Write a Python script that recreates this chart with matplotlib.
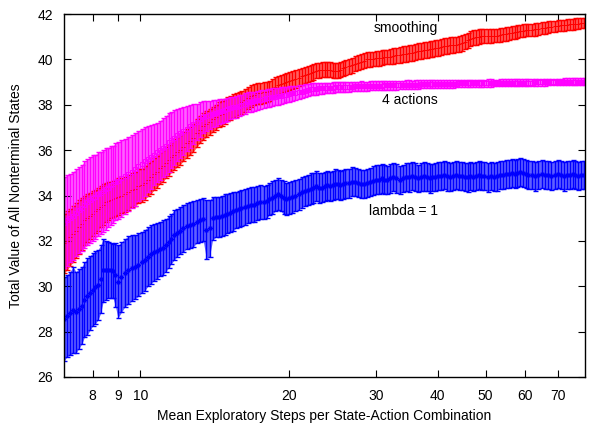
import matplotlib
matplotlib.use("Agg")
import matplotlib.pyplot as plt
from matplotlib.ticker import NullLocator, FixedLocator, FixedFormatter

plt.rcParams['font.family'] = ['Liberation Sans', 'DejaVu Sans']

# shared x samples (mean exploratory steps)
steps = [
    7.0, 7.1, 7.2, 7.3, 7.4, 7.5, 7.6, 7.7, 7.8, 7.9, 8.0, 8.1, 8.2, 8.3, 8.4, 8.5, 8.6, 8.7, 8.8, 8.9, 9.0,
    9.15, 9.3, 9.45, 9.6, 9.75, 9.9, 10.05, 10.2, 10.35, 10.5, 10.65, 10.8, 10.95, 11.1, 11.25, 11.4, 11.55, 11.7, 11.85, 12.0,
    12.2, 12.4, 12.6, 12.8, 13.0, 13.2, 13.4, 13.6, 13.8, 14.0, 14.2, 14.4, 14.6, 14.8, 15.0, 15.2, 15.4, 15.6, 15.8, 16.0,
    16.25, 16.5, 16.75, 17.0, 17.25, 17.5, 17.75, 18.0, 18.25, 18.5, 18.75, 19.0, 19.25, 19.5, 19.75, 20.0,
    20.3, 20.6, 20.9, 21.2, 21.5, 21.8, 22.1, 22.4, 22.7, 23.0, 23.3, 23.6, 23.9, 24.2, 24.5, 24.8, 25.1, 25.4, 25.7, 26.0,
    26.4, 26.8, 27.2, 27.6, 28.0, 28.4, 28.8, 29.2, 29.6, 30.0, 30.4, 30.8, 31.2, 31.6, 32.0,
    32.5, 33.0, 33.5, 34.0, 34.5, 35.0, 35.5, 36.0, 36.5, 37.0, 37.5, 38.0, 38.5, 39.0, 39.5, 40.0,
    40.6, 41.2, 41.8, 42.4, 43.0, 43.6, 44.2, 44.8, 45.4, 46.0, 46.6, 47.2, 47.8, 48.4, 49.0,
    49.75, 50.5, 51.25, 52.0, 52.75, 53.5, 54.25, 55.0, 55.75, 56.5, 57.25, 58.0, 58.75, 59.5, 60.25, 61.0,
    62, 63, 64, 65, 66, 67, 68, 69, 70, 71, 72, 73, 74, 75, 76, 77, 78, 79,
]

smoothing_mean = [
    31.9, 32.0, 32.15, 32.3, 32.45, 32.6, 32.75, 32.9, 33.0, 33.1, 33.2, 33.3, 33.4, 33.5, 33.6, 33.7, 33.75, 33.8, 33.85, 33.9, 33.95,
    34.0, 34.05, 34.15, 34.25, 34.3, 34.4, 34.45, 34.55, 34.7, 34.8, 34.95, 35.05, 35.2, 35.3, 35.45, 35.55, 35.7, 35.8, 35.9, 36.0,
    36.15, 36.3, 36.4, 36.55, 36.75, 36.9, 37.05, 37.15, 37.25, 37.35, 37.45, 37.55, 37.6, 37.7, 37.8, 37.85, 37.95, 38.0, 38.05, 38.1,
    38.2, 38.3, 38.4, 38.45, 38.5, 38.5, 38.55, 38.55, 38.6, 38.7, 38.8, 38.85, 38.9, 38.95, 39.0, 39.05,
    39.1, 39.15, 39.2, 39.25, 39.3, 39.35, 39.4, 39.45, 39.5, 39.52, 39.55, 39.55, 39.55, 39.55, 39.5, 39.5, 39.5, 39.55, 39.6, 39.65,
    39.7, 39.75, 39.8, 39.85, 39.9, 39.95, 40.0, 40.0, 40.02, 40.05, 40.05, 40.08, 40.1, 40.1, 40.12,
    40.15, 40.18, 40.2, 40.22, 40.25, 40.28, 40.3, 40.33, 40.35, 40.38, 40.4, 40.42, 40.45, 40.47, 40.5, 40.52,
    40.55, 40.58, 40.6, 40.62, 40.63, 40.65, 40.68, 40.72, 40.78, 40.85, 40.9, 40.95, 40.98, 41.0, 41.02,
    41.03, 41.05, 41.05, 41.05, 41.05, 41.07, 41.1, 41.12, 41.15, 41.18, 41.2, 41.22, 41.25, 41.27, 41.28, 41.3,
    41.3, 41.32, 41.35, 41.37, 41.4, 41.42, 41.44, 41.46, 41.48, 41.5, 41.5, 41.52, 41.54, 41.55, 41.57, 41.58, 41.6, 41.6,
]
smoothing_err = [
    1.3, 1.3, 1.25, 1.25, 1.2, 1.2, 1.15, 1.1, 1.05, 1.0, 1.0, 0.95, 0.95, 0.9, 0.9, 0.85, 0.85, 0.8, 0.8, 0.8, 0.8,
    0.78, 0.78, 0.77, 0.76, 0.75, 0.75, 0.74, 0.74, 0.73, 0.72, 0.72, 0.71, 0.7, 0.7, 0.69, 0.68, 0.68, 0.67, 0.66, 0.66,
    0.65, 0.64, 0.63, 0.62, 0.61, 0.6, 0.6, 0.59, 0.58, 0.57, 0.56, 0.55, 0.55, 0.54, 0.53, 0.53, 0.52, 0.52, 0.51, 0.5,
    0.5, 0.49, 0.48, 0.48, 0.47, 0.46, 0.46, 0.45, 0.45, 0.44, 0.43, 0.42, 0.42, 0.41, 0.4, 0.4,
    0.4, 0.39, 0.38, 0.37, 0.36, 0.36, 0.35, 0.35, 0.34, 0.34, 0.34, 0.34, 0.34, 0.34, 0.34, 0.34, 0.34, 0.34, 0.33, 0.33,
    0.33, 0.33, 0.33, 0.33, 0.33, 0.33, 0.32, 0.32, 0.32, 0.32, 0.32, 0.32, 0.32, 0.32, 0.32,
    0.34, 0.34, 0.35, 0.35, 0.35, 0.35, 0.35, 0.35, 0.35, 0.35, 0.35, 0.35, 0.35, 0.35, 0.35, 0.35,
    0.35, 0.35, 0.35, 0.35, 0.34, 0.34, 0.34, 0.34, 0.34, 0.33, 0.33, 0.33, 0.33, 0.32, 0.32,
    0.32, 0.31, 0.31, 0.3, 0.3, 0.3, 0.3, 0.29, 0.29, 0.29, 0.28, 0.28, 0.28, 0.28, 0.27, 0.27,
    0.27, 0.27, 0.26, 0.26, 0.26, 0.26, 0.25, 0.25, 0.25, 0.25, 0.24, 0.24, 0.24, 0.24, 0.24, 0.23, 0.23, 0.23,
]

actions4_mean = [
    32.8, 32.9, 33.0, 33.1, 33.25, 33.35, 33.45, 33.6, 33.7, 33.8, 33.9, 33.95, 34.05, 34.1, 34.2, 34.3, 34.35, 34.45, 34.5, 34.6, 34.65,
    34.75, 34.85, 34.95, 35.05, 35.15, 35.3, 35.4, 35.5, 35.6, 35.7, 35.8, 35.9, 36.0, 36.1, 36.2, 36.35, 36.45, 36.55, 36.65, 36.75,
    36.85, 36.95, 37.05, 37.15, 37.25, 37.35, 37.45, 37.5, 37.55, 37.6, 37.65, 37.7, 37.72, 37.75, 37.8, 37.85, 37.88, 37.9, 37.95, 38.0,
    38.05, 38.1, 38.12, 38.15, 38.2, 38.22, 38.25, 38.28, 38.3, 38.33, 38.35, 38.38, 38.4, 38.42, 38.45, 38.48,
    38.5, 38.52, 38.55, 38.58, 38.62, 38.66, 38.68, 38.7, 38.7, 38.72, 38.72, 38.74, 38.74, 38.75, 38.76, 38.77, 38.78, 38.78, 38.79, 38.8,
    38.8, 38.8, 38.81, 38.81, 38.82, 38.82, 38.82, 38.83, 38.83, 38.84, 38.84, 38.84, 38.85, 38.85, 38.85,
    38.86, 38.86, 38.87, 38.87, 38.88, 38.88, 38.88, 38.89, 38.89, 38.9, 38.9, 38.9, 38.91, 38.91, 38.92, 38.92,
    38.92, 38.92, 38.93, 38.93, 38.93, 38.93, 38.94, 38.94, 38.94, 38.94, 38.95, 38.95, 38.95, 38.95, 38.95,
    38.95, 38.96, 38.96, 38.96, 38.96, 38.97, 38.97, 38.97, 38.97, 38.97, 38.98, 38.98, 38.98, 38.98, 38.98, 38.98,
    38.98, 38.99, 38.99, 38.99, 38.99, 39.0, 39.0, 39.0, 39.0, 39.0, 39.01, 39.01, 39.01, 39.01, 39.02, 39.02, 39.02, 39.02,
]
actions4_err = [
    2.0, 2.0, 1.95, 1.95, 1.9, 1.9, 1.9, 1.9, 1.9, 1.9, 1.9, 1.85, 1.85, 1.8, 1.8, 1.8, 1.75, 1.75, 1.7, 1.7, 1.7,
    1.7, 1.65, 1.65, 1.6, 1.6, 1.55, 1.55, 1.5, 1.45, 1.4, 1.35, 1.3, 1.3, 1.3, 1.3, 1.3, 1.25, 1.2, 1.15, 1.1,
    1.05, 1.0, 0.95, 0.9, 0.8, 0.75, 0.7, 0.65, 0.62, 0.6, 0.58, 0.55, 0.53, 0.52, 0.5, 0.5, 0.48, 0.47, 0.46, 0.45,
    0.45, 0.44, 0.43, 0.42, 0.42, 0.41, 0.4, 0.4, 0.4, 0.39, 0.38, 0.38, 0.37, 0.36, 0.35, 0.35,
    0.34, 0.32, 0.3, 0.29, 0.28, 0.27, 0.26, 0.26, 0.25, 0.25, 0.24, 0.24, 0.24, 0.23, 0.23, 0.23, 0.22, 0.22, 0.22, 0.22,
    0.22, 0.21, 0.21, 0.21, 0.21, 0.2, 0.2, 0.2, 0.2, 0.2, 0.2, 0.2, 0.2, 0.2, 0.2,
    0.2, 0.19, 0.19, 0.19, 0.19, 0.19, 0.18, 0.18, 0.18, 0.18, 0.18, 0.18, 0.18, 0.17, 0.17, 0.17,
    0.17, 0.17, 0.17, 0.17, 0.17, 0.16, 0.16, 0.16, 0.16, 0.16, 0.16, 0.16, 0.16, 0.16, 0.16,
    0.16, 0.16, 0.16, 0.15, 0.15, 0.15, 0.15, 0.15, 0.15, 0.15, 0.15, 0.15, 0.15, 0.15, 0.15, 0.15,
    0.15, 0.15, 0.15, 0.15, 0.15, 0.15, 0.15, 0.15, 0.15, 0.15, 0.15, 0.15, 0.15, 0.15, 0.15, 0.15, 0.15, 0.15,
]

lambda1_mean = [
    28.55, 28.7, 28.8, 28.95, 28.85, 29.0, 29.15, 29.4, 29.55, 29.7, 29.85, 29.95, 30.05, 30.3, 30.7, 30.7, 30.72, 30.7, 30.68, 30.5, 30.2,
    30.4, 30.6, 30.7, 30.8, 30.85, 30.95, 31.05, 31.15, 31.3, 31.4, 31.5, 31.55, 31.65, 31.7, 31.8, 31.95, 32.1, 32.25, 32.35, 32.45,
    32.55, 32.65, 32.7, 32.75, 32.85, 32.9, 32.95, 32.5, 32.55, 33.0, 33.05, 33.05, 33.1, 33.15, 33.2, 33.25, 33.3, 33.35, 33.4, 33.45,
    33.5, 33.55, 33.6, 33.6, 33.65, 33.7, 33.7, 33.75, 33.85, 33.9, 34.0, 34.05, 34.0, 33.9, 33.85, 33.9,
    33.95, 34.0, 34.05, 34.15, 34.2, 34.25, 34.3, 34.35, 34.4, 34.35, 34.35, 34.4, 34.45, 34.4, 34.45, 34.5, 34.5, 34.45, 34.5, 34.55,
    34.55, 34.6, 34.6, 34.55, 34.5, 34.5, 34.55, 34.6, 34.65, 34.7, 34.7, 34.75, 34.7, 34.7, 34.75,
    34.8, 34.75, 34.7, 34.75, 34.8, 34.8, 34.85, 34.8, 34.75, 34.8, 34.85, 34.8, 34.75, 34.8, 34.8, 34.85,
    34.85, 34.9, 34.85, 34.8, 34.85, 34.9, 34.85, 34.85, 34.8, 34.8, 34.85, 34.8, 34.85, 34.9, 34.85,
    34.85, 34.8, 34.85, 34.8, 34.85, 34.9, 34.9, 34.95, 34.95, 35.0, 34.95, 35.0, 35.05, 35.0, 34.95, 34.9,
    34.9, 34.85, 34.9, 34.95, 34.9, 34.9, 34.85, 34.9, 34.95, 34.9, 34.85, 34.9, 34.9, 34.95, 34.9, 34.85, 34.9, 34.9,
]
lambda1_err = [
    1.85, 1.8, 1.85, 1.9, 1.8, 1.75, 1.7, 1.65, 1.7, 1.65, 1.6, 1.6, 1.55, 1.5, 1.4, 1.3, 1.25, 1.2, 1.2, 1.4, 1.6,
    1.55, 1.5, 1.5, 1.45, 1.4, 1.4, 1.35, 1.35, 1.3, 1.3, 1.25, 1.25, 1.2, 1.2, 1.15, 1.15, 1.1, 1.1, 1.05, 1.05,
    1.05, 1.0, 1.0, 1.0, 0.95, 0.95, 0.95, 1.3, 1.25, 0.95, 0.9, 0.9, 0.9, 0.9, 0.85, 0.85, 0.85, 0.8, 0.8, 0.8,
    0.8, 0.78, 0.78, 0.76, 0.75, 0.75, 0.74, 0.73, 0.72, 0.72, 0.7, 0.7, 0.7, 0.72, 0.72, 0.7,
    0.7, 0.7, 0.68, 0.68, 0.68, 0.67, 0.67, 0.66, 0.66, 0.66, 0.65, 0.65, 0.65, 0.65, 0.65, 0.65, 0.64, 0.64, 0.64, 0.64,
    0.64, 0.64, 0.63, 0.63, 0.62, 0.62, 0.62, 0.63, 0.63, 0.63, 0.63, 0.63, 0.63, 0.62, 0.62,
    0.62, 0.63, 0.62, 0.61, 0.62, 0.63, 0.62, 0.62, 0.61, 0.62, 0.63, 0.62, 0.62, 0.61, 0.62, 0.62,
    0.62, 0.62, 0.63, 0.62, 0.62, 0.63, 0.62, 0.62, 0.62, 0.63, 0.62, 0.62, 0.62, 0.63, 0.62,
    0.62, 0.63, 0.62, 0.62, 0.63, 0.62, 0.63, 0.62, 0.62, 0.63, 0.62, 0.63, 0.62, 0.62, 0.63, 0.62,
    0.62, 0.63, 0.62, 0.62, 0.63, 0.62, 0.62, 0.63, 0.62, 0.62, 0.63, 0.62, 0.62, 0.63, 0.62, 0.62, 0.63, 0.62,
]

x_ticks = [8, 9, 10, 20, 30, 40, 50, 60, 70]
y_ticks = [26, 28, 30, 32, 34, 36, 38, 40, 42]

labels = ["smoothing", "4 actions", "lambda = 1"]
label_pos = [(40, 41.4), (40, 38.2), (40, 33.3)]

fig = plt.figure(figsize=(5.89, 4.25), dpi=100)
ax = fig.add_axes([64 / 589, 1 - 377 / 425, (585 - 64) / 589, (377 - 14) / 425])

series = [
    (smoothing_mean, smoothing_err, '#ff0000', '+', 3.5),
    (lambda1_mean, lambda1_err, '#0000ff', (8, 2, 0), 3.5),
    (actions4_mean, actions4_err, '#ff00ff', 's', 3.0),
]
for mean, err, col, mk, ms in series:
    lo = [m - e for m, e in zip(mean, err)]
    hi = [m + e for m, e in zip(mean, err)]
    ax.fill_between(steps, lo, hi, color=col, alpha=0.62, linewidth=0)
    ax.errorbar(steps, mean, yerr=err, fmt='none', ecolor=col, elinewidth=1.0,
                capsize=1.8, capthick=1.0)
    ax.plot(steps, mean, linestyle='none', marker=mk, ms=ms, mew=0.7,
            color=col, markerfacecolor='none')

ax.set_xscale('log')
ax.set_xlim(7, 79.5)
ax.set_ylim(26, 42)
ax.xaxis.set_major_locator(FixedLocator(x_ticks))
ax.xaxis.set_major_formatter(FixedFormatter([str(t) for t in x_ticks]))
ax.xaxis.set_minor_locator(NullLocator())
ax.set_yticks(y_ticks)
ax.tick_params(direction='in', top=True, right=True, length=5, width=0.8,
               labelsize=10, colors='black')
ax.tick_params(axis='x', pad=9)
ax.tick_params(axis='y', pad=8)
for s in ax.spines.values():
    s.set_linewidth(1.0)

ax.set_xlabel("Mean Exploratory Steps per State-Action Combination", fontsize=10, labelpad=4)
ax.set_ylabel("Total Value of All Nonterminal States", fontsize=10, labelpad=10)

for txt, (tx, ty) in zip(labels, label_pos):
    ax.text(tx, ty, txt, ha='right', va='center', fontsize=10)

fig.savefig("out.png", dpi=100)
